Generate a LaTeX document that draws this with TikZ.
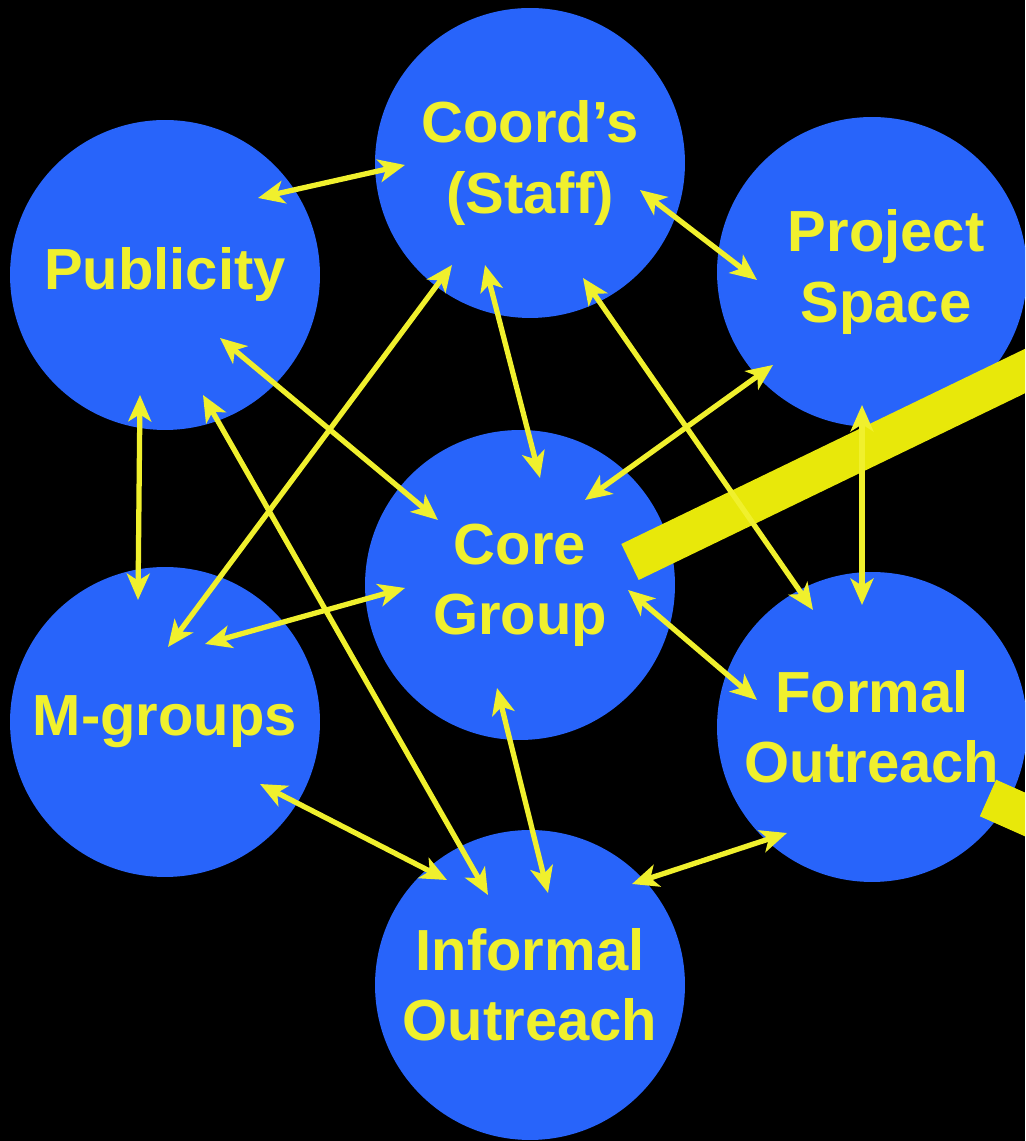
\documentclass[tikz,border=0pt]{standalone}
\usepackage{fontspec}
\setmainfont{Liberation Sans}
\usetikzlibrary{arrows.meta}
\definecolor{cblue}  {RGB}{40,100,250}
\definecolor{cyellow}{RGB}{240,240,45}
\definecolor{cbar}   {RGB}{232,232,10}
\tikzset{
    team/.style={circle, fill=cblue, minimum size=6.2cm, inner sep=0pt,
             align=center, text=cyellow, font=\bfseries\fontsize{33}{40}\selectfont},
    link/.style={draw=cyellow, line width=3pt,
             {Stealth[length=15pt,width=13pt,inset=4pt]}-{Stealth[length=15pt,width=13pt,inset=4pt]}},
    pointer/.style={draw=cbar, line width=0.8cm}
  }

\begin{document}
\begin{tikzpicture}[x=0.02cm, y=0.02cm]
 % background
     \fill[black] (0,0) rectangle (1025,1141);
     \useasboundingbox (0,0) rectangle (1025,1141);
     \clip (0,0) rectangle (1025,1141);
 % the seven circles
     \node[team] (coord)  at (530,978) {Coord’s\\(Staff)};
     \node[team] (pub)    at (165,866) {Publicity};
     \node[team] (proj)   at (872,869) {\hspace*{16pt}Project\\\hspace*{16pt}Space};
     \node[team] (core)   at (520,556) {Core\\Group};
     \node[team] (mgr)    at (165,419) {M-groups};
     \node[team] (formal) at (872,414) {Formal\\Outreach};
     \node[team] (inf)    at (530,156) {Informal\\Outreach};
 % yellow bars
     \coordinate (bar1) at (630,579);
     \coordinate (bar2) at (988,343);
     \draw[pointer] (bar1) -- ++(25.8:600);
     \draw[pointer] (bar2) -- ++(-24:300);
 % Publicity
     \draw[link] ([shift={(93,77)}]pub.center)    -- ([shift={(-125,-2)}]coord.center);
     \draw[link] ([shift={(-25,-120)}]pub.center) -- ([shift={(-27,122)}]mgr.center);
     \draw[link] ([shift={(55,-63)}]pub.center)   -- ([shift={(-82,65)}]core.center);
     \draw[link] ([shift={(38,-120)}]pub.center)  -- ([shift={(-42,90)}]inf.center);
 % Coord's
     \draw[link] ([shift={(110,-27)}]coord.center)  -- ([shift={(-115,-8)}]proj.center);
     \draw[link] ([shift={(-78,-102)}]coord.center) -- ([shift={(3,75)}]mgr.center);
     \draw[link] ([shift={(-45,-102)}]coord.center) -- ([shift={(20,107)}]core.center);
     \draw[link] ([shift={(53,-115)}]coord.center)  -- ([shift={(-59,117)}]formal.center);
 % Project Space
     \draw[link] ([shift={(-99,-93)}]proj.center)  -- ([shift={(65,85)}]core.center);
     \draw[link] ([shift={(-10,-133)}]proj.center) -- ([shift={(-10,122)}]formal.center);
 % Core Group
     \draw[link] ([shift={(-115,-3)}]core.center) -- ([shift={(40,78)}]mgr.center);
     \draw[link] ([shift={(108,-5)}]core.center)  -- ([shift={(-115,27)}]formal.center);
     \draw[link] ([shift={(-23,-103)}]core.center) -- ([shift={(18,92)}]inf.center);
 % outreach
     \draw[link] ([shift={(95,-62)}]mgr.center)     -- ([shift={(-83,105)}]inf.center);
     \draw[link] ([shift={(-85,-106)}]formal.center) -- ([shift={(102,101)}]inf.center);
\end{tikzpicture}
\end{document}
